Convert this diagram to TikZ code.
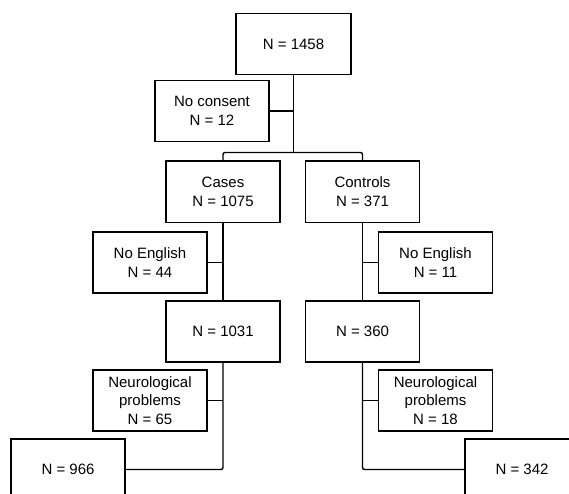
\documentclass[tikz,border=0pt]{standalone}
\usepackage{fontspec}
\setmainfont{Liberation Sans}
\begin{document}
\begin{tikzpicture}[x=1pt,y=-1pt,
  box/.style={draw,line width=1.4pt,minimum width=114pt,minimum height=61pt,inner sep=0pt,align=center,font=\fontsize{15}{18.5}\selectfont},
  conn/.style={line width=1.4pt,rounded corners=2pt}]
\useasboundingbox (0,0) rectangle (569,494);
\clip (0,0) rectangle (569,494);
\fill[white] (0,0) rectangle (569,494);
\node[box,minimum width=115pt] (top) at (293.5,44) {N = 1458};
\node[box] (nocons) at (212,111) {No consent\\N = 12};
\node[box] (cases) at (223,191.7) {Cases\\N = 1075};
\node[box] (controls) at (362.5,191.7) {Controls\\N = 371};
\node[box] (noeng1) at (150,262.5) {No English\\N = 44};
\node[box] (n1031) at (223,331.5) {N = 1031};
\node[box] (neuro1) at (150,400.5) {Neurological\\problems\\N = 65};
\node[box] (n966) at (68,469.5) {N = 966};
\node[box] (noeng2) at (435.5,262.5) {No English\\N = 11};
\node[box] (n360) at (362.5,331.5) {N = 360};
\node[box] (neuro2) at (435.5,400.5) {Neurological\\problems\\N = 18};
\node[box] (n342) at (522,469.5) {N = 342};
\coordinate (br) at (293.5,152.5);
\draw[conn] (top.south) -- (br);
\draw[conn] (cases.north) |- (br) -| (controls.north);
\draw[conn] (nocons.east) -- (nocons.east -| top.south);
\draw[conn] (cases.south) -- (n1031.north);
\draw[conn] (noeng1.east) -- (noeng1.east -| cases.south);
\draw[conn] (n1031.south) |- (n966.east);
\draw[conn] (neuro1.east) -- (neuro1.east -| n1031.south);
\draw[conn] (controls.south) -- (n360.north);
\draw[conn] (noeng2.west) -- (noeng2.west -| controls.south);
\draw[conn] (n360.south) |- (n342.west);
\draw[conn] (neuro2.west) -- (neuro2.west -| n360.south);
\end{tikzpicture}
\end{document}
